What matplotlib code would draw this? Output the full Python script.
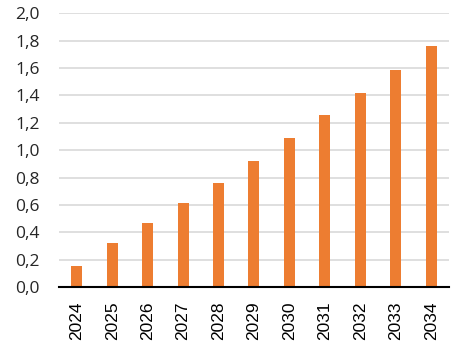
import numpy as np
import matplotlib.pyplot as plt

years = ["2024", "2025", "2026", "2027", "2028", "2029", "2030", "2031", "2032", "2033", "2034"]
values = [0.155, 0.325, 0.471, 0.615, 0.76, 0.92, 1.09, 1.256, 1.416, 1.584, 1.759]
y_ticks = [0.0, 0.2, 0.4, 0.6, 0.8, 1.0, 1.2, 1.4, 1.6, 1.8, 2.0]

fig = plt.figure(figsize=(4.72, 3.55), dpi=100)
ax = fig.add_axes([0.125, 0.191, 0.826, 0.772])

x = np.arange(len(years))
ax.bar(x, values, width=0.31, color="#ED7D31", zorder=3)

ax.set_xlim(-0.5, len(years) - 0.5)
ax.set_ylim(0, 2.0)
ax.set_yticks(y_ticks)
ax.set_yticklabels([f"{v:.1f}".replace(".", ",") for v in y_ticks],
                   fontsize=12.5, color="#262626", family="Open Sans")
ax.set_xticks(x)
ax.set_xticklabels(years, rotation=90, fontsize=12.5, family="Liberation Sans")

ax.grid(axis="y", color="#D9D9D9", linewidth=1.2, zorder=0)
for s in ["top", "right", "left"]:
    ax.spines[s].set_visible(False)
ax.spines["bottom"].set_color("black")
ax.spines["bottom"].set_linewidth(1.5)
ax.spines["bottom"].set_zorder(4)
ax.tick_params(axis="both", length=0)
ax.tick_params(axis="y", pad=14)
ax.tick_params(axis="x", pad=10)

fig.savefig("out.png", dpi=100)
